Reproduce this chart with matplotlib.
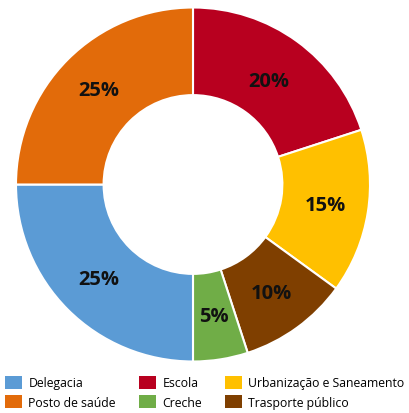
import matplotlib
matplotlib.use("Agg")
import matplotlib.pyplot as plt
from matplotlib.patches import Patch
import numpy as np

categories = ["Escola", "Urbanização e Saneamento", "Trasporte público", "Creche", "Delegacia", "Posto de saúde"]
values = [20, 15, 10, 5, 25, 25]
colors = ["#B8001F", "#FFC000", "#7F3F00", "#70AD47", "#5B9BD5", "#E26B0A"]
legend_order = ["Delegacia", "Posto de saúde", "Escola", "Creche", "Urbanização e Saneamento", "Trasporte público"]

W, H = 409, 414
fig = plt.figure(figsize=(W/100, H/100), dpi=100)
cx, cy, r = 193, 185.5, 177
ax = fig.add_axes([(cx-r)/W, (H-cy-r)/H, 2*r/W, 2*r/H])
wedges, texts = ax.pie(values, colors=colors, startangle=90, counterclock=False,
                       radius=1, wedgeprops=dict(width=0.495, edgecolor="white", linewidth=1.5))
for w, v in zip(wedges, values):
    ang = np.deg2rad((w.theta1 + w.theta2) / 2)
    rr = 0.725 if v == 20 else 0.755
    ax.text(rr*np.cos(ang), rr*np.sin(ang), f"{v}%", ha="center", va="center",
            fontsize=14.5, fontweight="bold", family="Open Sans", color="#111111")
ax.set_xlim(-1, 1)
ax.set_ylim(-1, 1)
ax.set_aspect("equal")
ax.axis("off")

cmap = dict(zip(categories, colors))
handles = [Patch(facecolor=cmap[c], label=c) for c in legend_order]
fig.legend(handles=handles, ncol=3, loc="lower left", bbox_to_anchor=(0.005, 0.003),
           frameon=False, prop=dict(family="Open Sans", size=8.8),
           handlelength=1.4, handleheight=1.3, handletextpad=0.5, columnspacing=1.9,
           labelspacing=0.45, borderpad=0.25, borderaxespad=0.0)
fig.savefig("out.png", dpi=100)
